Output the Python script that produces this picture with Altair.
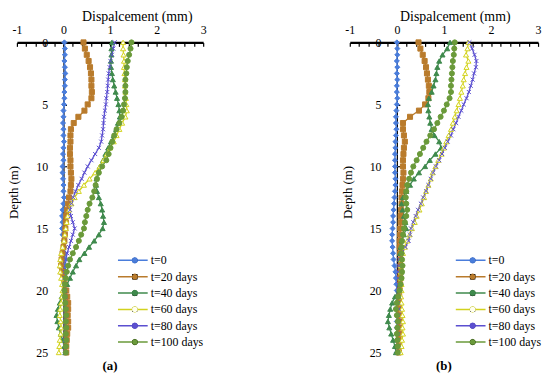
import altair as alt
import pandas as pd

SERIF = "Liberation Serif"

DEPTH = [0.0, 0.5, 1.0, 1.5, 2.0, 2.5, 3.0, 3.5, 4.0, 4.5,
         5.0, 5.5, 6.0, 6.5, 7.0, 7.5, 8.0, 8.5, 9.0, 9.5,
         10.0, 10.5, 11.0, 11.5, 12.0, 12.5, 13.0, 13.5, 14.0, 14.5,
         15.0, 15.5, 16.0, 16.5, 17.0, 17.5, 18.0, 18.5, 19.0, 19.5,
         20.0, 20.5, 21.0, 21.5, 22.0, 22.5, 23.0, 23.5, 24.0, 24.5, 25.0]

SERIES = ["t=0", "t=20 days", "t=40 days", "t=60 days", "t=80 days", "t=100 days"]
COLORS = ["#4A7DDB", "#B97B2C", "#3F8A4C", "#D2D21E", "#5B4FD0", "#6A9A3A"]
FILLS = ["#4A7DDB", "#B97B2C", "#3F8A4C", "#FFFFF0", "#5B4FD0", "#6A9A3A"]
SHAPES = ["diamond", "square", "triangle-up", "triangle-up",
          "M-0.8,-0.8L0.8,0.8M-0.8,0.8L0.8,-0.8", "circle"]

X_TICKS = [-1, -0.8, -0.6, -0.4, -0.2, 0, 0.2, 0.4, 0.6, 0.8, 1, 1.2, 1.4, 1.6, 1.8,
           2, 2.2, 2.4, 2.6, 2.8, 3]
Y_TICKS = [0, 5, 10, 15, 20, 25]

# Panel (a)
A_T0 = [0.02, 0.03, 0.03, 0.02, 0.03, 0.04, 0.03, 0.03, 0.02, 0.02,
        0.01, 0.0, 0.0, -0.01, 0.0, 0.0, 0.01, 0.0, -0.01, 0.0,
        -0.02, -0.02, -0.01, 0.0, 0.0, 0.01, 0.0, -0.02, -0.03, -0.02,
        -0.03, -0.02, 0.0, 0.02, 0.03, 0.04, 0.03, 0.05, 0.04, 0.03,
        0.05, 0.06, 0.05, 0.04, 0.06, 0.05, 0.06, 0.05, 0.04, 0.05, 0.05]
A_T20 = [0.43, 0.46, 0.5, 0.54, 0.57, 0.59, 0.6, 0.6, 0.61, 0.6,
         0.52, 0.45, 0.32, 0.22, 0.16, 0.15, 0.15, 0.14, 0.14, 0.15,
         0.15, 0.16, 0.17, 0.16, 0.15, 0.12, 0.1, 0.08, 0.06, 0.05,
         0.04, 0.03, 0.02, 0.0, -0.02, -0.04, -0.05, -0.03, 0.0, 0.03,
         0.06, 0.08, 0.1, 0.1, 0.09, 0.1, 0.1, 0.08, 0.07, 0.06, 0.06]
A_T40 = [1.04, 1.03, 1.03, 1.02, 1.02, 1.04, 1.06, 1.09, 1.12, 1.15,
         1.18, 1.2, 1.21, 1.17, 1.13, 1.08, 1.02, 0.96, 0.9, 0.85,
         0.78, 0.74, 0.71, 0.7, 0.72, 0.76, 0.8, 0.83, 0.85, 0.87,
         0.84, 0.76, 0.66, 0.55, 0.45, 0.34, 0.27, 0.2, 0.14, 0.08,
         0.02, -0.04, -0.08, -0.12, -0.15, -0.13, -0.1, -0.06, -0.02, 0.02, 0.04]
A_T60 = [1.28, 1.28, 1.29, 1.3, 1.3, 1.31, 1.32, 1.32, 1.33, 1.34,
         1.35, 1.36, 1.33, 1.26, 1.2, 1.14, 1.08, 1.0, 0.93, 0.86,
         0.78, 0.68, 0.56, 0.44, 0.33, 0.24, 0.17, 0.12, 0.09, 0.07,
         0.05, 0.03, 0.01, -0.02, -0.05, -0.07, -0.08, -0.07, -0.05, -0.03,
         -0.02, -0.03, -0.05, -0.07, -0.08, -0.06, -0.05, -0.06, -0.08, -0.09, -0.1]
A_T80 = [1.1, 1.07, 1.04, 1.01, 0.99, 0.97, 0.96, 0.95, 0.94, 0.92,
         0.91, 0.89, 0.87, 0.86, 0.85, 0.83, 0.81, 0.76, 0.68, 0.6,
         0.52, 0.45, 0.39, 0.32, 0.26, 0.21, 0.17, 0.14, 0.16, 0.2,
         0.24, 0.2, 0.16, 0.12, 0.08, 0.05, 0.04, 0.03, 0.02, 0.02,
         0.03, 0.04, 0.05, 0.06, 0.05, 0.04, 0.05, 0.04, 0.03, 0.03, 0.03]
A_T100 = [1.46, 1.44, 1.41, 1.38, 1.36, 1.35, 1.33, 1.33, 1.33, 1.32,
          1.3, 1.28, 1.25, 1.2, 1.14, 1.09, 1.05, 1.01, 0.97, 0.92,
          0.83, 0.76, 0.72, 0.69, 0.66, 0.62, 0.56, 0.52, 0.49, 0.46,
          0.44, 0.38, 0.33, 0.27, 0.2, 0.14, 0.1, 0.07, 0.05, 0.03,
          0.02, 0.03, 0.04, 0.05, 0.06, 0.05, 0.06, 0.05, 0.06, 0.05, 0.05]

# Panel (b)
B_T0 = [0.0, 0.01, 0.01, 0.0, 0.01, 0.0, 0.01, 0.0, 0.0, 0.01,
        0.0, -0.01, -0.02, -0.02, -0.01, -0.02, -0.03, -0.03, -0.04, -0.04,
        -0.04, -0.04, -0.03, -0.03, -0.04, -0.05, -0.06, -0.07, -0.08, -0.08,
        -0.09, -0.1, -0.1, -0.09, -0.08, -0.07, -0.05, -0.03, -0.02, -0.01,
        0.0, 0.0, 0.01, 0.0, 0.01, 0.0, 0.0, 0.01, 0.0, 0.0, 0.0]
B_T20 = [0.46, 0.5, 0.55, 0.59, 0.62, 0.64, 0.66, 0.68, 0.69, 0.67,
         0.6, 0.47, 0.28, 0.13, 0.13, 0.15, 0.17, 0.15, 0.14, 0.13,
         0.13, 0.14, 0.13, 0.12, 0.11, 0.1, 0.1, 0.09, 0.08, 0.08,
         0.07, 0.07, 0.06, 0.06, 0.07, 0.08, 0.08, 0.08, 0.07, 0.07,
         0.06, 0.05, 0.04, 0.04, 0.05, 0.06, 0.05, 0.05, 0.04, 0.04, 0.04]
B_T40 = [1.13, 1.07, 0.97, 0.9, 0.86, 0.84, 0.82, 0.78, 0.74, 0.68,
         0.66, 0.67, 0.69, 0.71, 0.74, 0.8, 0.9, 0.94, 0.82, 0.7,
         0.6, 0.47, 0.36, 0.28, 0.2, 0.13, 0.1, 0.12, 0.15, 0.18,
         0.2, 0.15, 0.1, 0.08, 0.07, 0.08, 0.09, 0.1, 0.08, 0.06,
         0.04, -0.04, -0.1, -0.14, -0.17, -0.19, -0.16, -0.12, -0.08, -0.04, -0.02]
B_T60 = [1.52, 1.5, 1.47, 1.52, 1.48, 1.45, 1.42, 1.4, 1.37, 1.34,
         1.31, 1.27, 1.23, 1.19, 1.15, 1.1, 1.05, 1.0, 0.95, 0.88,
         0.82, 0.76, 0.72, 0.67, 0.62, 0.58, 0.53, 0.48, 0.42, 0.38,
         0.32, 0.27, 0.22, 0.17, 0.13, 0.1, 0.09, 0.08, 0.09, 0.1,
         0.1, 0.09, 0.1, 0.11, 0.12, 0.13, 0.12, 0.13, 0.11, 0.1, 0.08]
B_T80 = [1.54, 1.6, 1.65, 1.69, 1.68, 1.64, 1.61, 1.57, 1.53, 1.48,
         1.42, 1.37, 1.31, 1.26, 1.2, 1.15, 1.08, 1.02, 0.96, 0.9,
         0.83, 0.77, 0.72, 0.67, 0.62, 0.56, 0.51, 0.45, 0.4, 0.35,
         0.3, 0.28, 0.25, 0.18, 0.1, 0.05, 0.04, 0.03, 0.03, 0.03,
         0.03, 0.04, 0.03, 0.04, 0.03, 0.04, 0.03, 0.03, 0.02, 0.03, 0.02]
B_T100 = [1.23, 1.22, 1.21, 1.19, 1.18, 1.17, 1.16, 1.15, 1.15, 1.12,
          1.06, 1.0, 0.93, 0.86, 0.79, 0.71, 0.63, 0.56, 0.49, 0.42,
          0.35, 0.3, 0.26, 0.22, 0.2, 0.19, 0.2, 0.22, 0.2, 0.17,
          0.15, 0.13, 0.11, 0.1, 0.1, 0.11, 0.12, 0.11, 0.1, 0.08,
          0.06, 0.03, 0.0, -0.02, 0.0, 0.02, 0.01, 0.0, 0.01, 0.02, 0.02]

PANEL_A = [A_T0, A_T20, A_T40, A_T60, A_T80, A_T100]
PANEL_B = [B_T0, B_T20, B_T40, B_T60, B_T80, B_T100]


def frame(series_values):
    rows = []
    for name, vals in zip(SERIES, series_values):
        for d, v in zip(DEPTH, vals):
            rows.append({"depth": d, "disp": v, "series": name, "series2": name})
    return pd.DataFrame(rows)


def panel(series_values, label, width, height, leg_x, leg_y, title_x):
    df = frame(series_values)
    zero_px = width / 4.0
    x = alt.X("disp:Q",
              scale=alt.Scale(domain=[-1, 3], nice=False, zero=False),
              axis=alt.Axis(orient="top", title="Dispalcement  (mm)", values=X_TICKS,
                            labelExpr="abs(datum.value - round(datum.value)) < 0.001 ? datum.value : ''",
                            labelOverlap=False, labelFlush=False, grid=False,
                            tickSize={"expr": "-4"}, tickWidth=1.2, tickColor="black",
                            domainColor="black", domainWidth=2.2,
                            labelFont=SERIF, labelFontSize=12, labelColor="black", labelPadding=10,
                            titleFont=SERIF, titleFontSize=14, titleFontWeight="normal",
                            titleColor="black", titlePadding=0, titleX=title_x))
    y = alt.Y("depth:Q",
              scale=alt.Scale(domain=[0, 25], reverse=True, nice=False, zero=False),
              axis=alt.Axis(values=Y_TICKS, offset=-zero_px, title="Depth  (m)",
                            grid=False, labelFlush=False, labelOverlap=False,
                            tickSize={"expr": "-3"}, tickColor="black", tickWidth=1.2,
                            domainColor="black", domainWidth=1.2,
                            labelFont=SERIF, labelFontSize=12, labelColor="black", labelPadding=19,
                            titleFont=SERIF, titleFontSize=13, titleFontWeight="normal",
                            titleColor="black", titleX=-43, titleY=151))
    stroke_leg = alt.Legend(orient="none", legendX=leg_x, legendY=leg_y, title=None,
                            symbolType="stroke", symbolSize=900, symbolStrokeWidth=1.5,
                            clipHeight=12, rowPadding=4.5, padding=0,
                            labelFont=SERIF, labelFontSize=12, labelColor="black", labelOffset=2)
    shape_leg = alt.Legend(orient="none", legendX=leg_x + 12, legendY=leg_y, title=None,
                           symbolSize=30, symbolStrokeWidth=1,
                           clipHeight=12, rowPadding=4.5, padding=0,
                           labelExpr="''", labelFontSize=12, labelOffset=0)
    base = alt.Chart(df)
    lines = base.mark_line(strokeWidth=1.3).encode(
        x=x, y=y, order=alt.Order("depth:Q"),
        stroke=alt.Stroke("series:N", sort=SERIES, scale=alt.Scale(range=COLORS), legend=stroke_leg),
    )
    points = base.mark_point(size=26, strokeWidth=1, opacity=1).encode(
        x=x, y=y,
        color=alt.Color("series2:N", sort=SERIES, scale=alt.Scale(range=COLORS), legend=shape_leg),
        fill=alt.Fill("series2:N", sort=SERIES, scale=alt.Scale(range=FILLS), legend=shape_leg),
        shape=alt.Shape("series2:N", sort=SERIES, scale=alt.Scale(range=SHAPES), legend=shape_leg),
    )
    return alt.layer(lines, points).properties(
        width=width, height=height,
        title=alt.TitleParams(text=label, orient="bottom", anchor="middle", frame="group",
                              font=SERIF, fontSize=13, fontWeight="bold", color="black", offset=2),
    )


pa = panel(PANEL_A, "(a)", 188, 313, 101, 214, 121)
pb = panel(PANEL_B, "(b)", 190, 313, 106, 214, 106)

chart = alt.hconcat(pa, pb, spacing=136).resolve_scale(
    stroke="independent", color="independent", fill="independent", shape="independent",
    x="independent", y="independent",
).resolve_legend(
    stroke="independent", color="independent", fill="independent", shape="independent",
).properties(padding=0).configure_view(stroke=None)

chart.save("out.html", embed_options={"renderer": "svg", "actions": False})
